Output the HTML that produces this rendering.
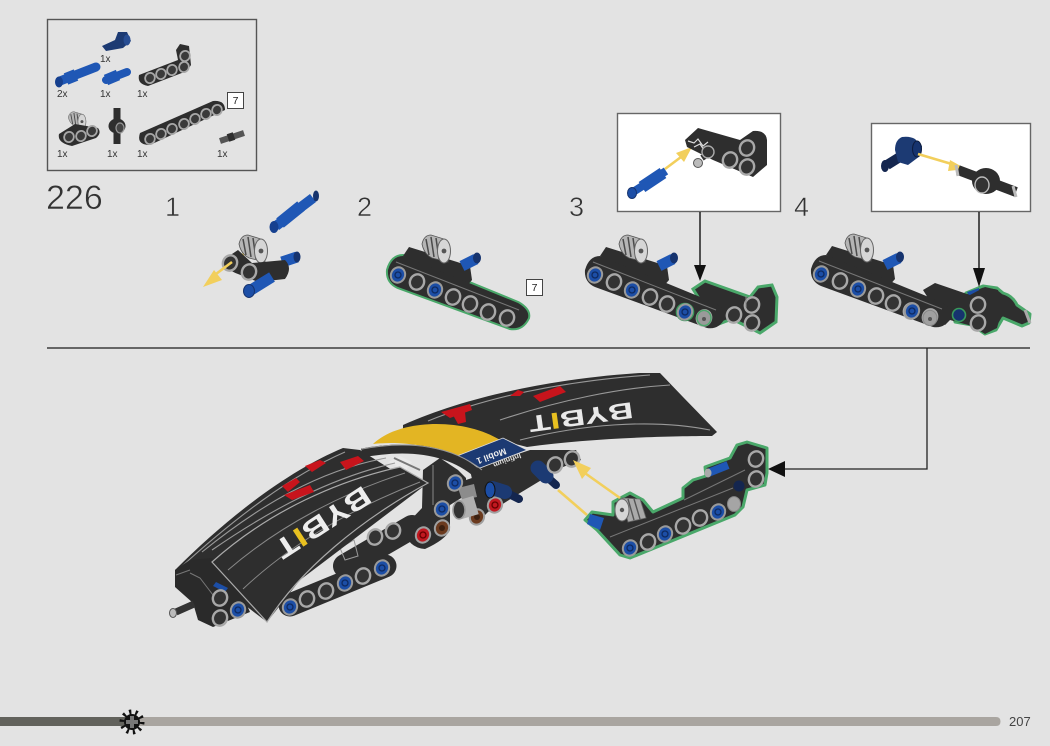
<!DOCTYPE html>
<html><head><meta charset="utf-8"><style>
html,body{margin:0;padding:0;background:#e3e3e3;width:1050px;height:746px;overflow:hidden}
svg{display:block}
text{font-family:"Liberation Sans",sans-serif}
</style></head><body>
<svg width="1050" height="746" viewBox="0 0 1050 746" xmlns="http://www.w3.org/2000/svg">
<defs>
<g id="h"><ellipse rx="7" ry="7.8" transform="rotate(25)" fill="#333" stroke="#a8a8a8" stroke-width="2.4"/></g>
<g id="b"><ellipse rx="7" ry="7.8" transform="rotate(25)" fill="#1c4ea6" stroke="#9a9a9a" stroke-width="2"/><circle r="3" fill="none" stroke="#0f2a60" stroke-width="1.3"/></g>
<g id="r"><ellipse rx="7" ry="7.8" transform="rotate(25)" fill="#c01820" stroke="#a0a0a0" stroke-width="2"/><circle r="3" fill="none" stroke="#600" stroke-width="1.3"/></g>
<g id="br"><ellipse rx="7" ry="7.8" transform="rotate(25)" fill="#6b3a1e" stroke="#a0a0a0" stroke-width="2"/><circle r="3" fill="#3c2010"/></g>
<g id="s"><ellipse rx="4.8" ry="5.2" transform="rotate(25)" fill="#3a3a3a" stroke="#a8a8a8" stroke-width="1.8"/></g>
<g id="pul">
<path d="M-14,-6 Q-12,-15 -5,-15 L8,-11 L12,12 L-4,8 Q-12,4 -14,-6 Z" fill="#b5b5b5" stroke="#555" stroke-width=".8"/>
<path d="M-10,-11 L-7,5 M-5,-13 L-2,7 M0,-12 L3,9" stroke="#4a4a4a" stroke-width="1.5" fill="none"/>
<ellipse cx="8" cy="1" rx="6.5" ry="12" fill="#d6d6d6" stroke="#666" stroke-width="1"/>
<circle cx="8" cy="1" r="2.4" fill="#555"/>
</g>
<g id="sub">
<path d="M403,256 L409,247 L470,266 L472,280 L465,288 Z" fill="#2e2e2e"/>
<path d="M462,266 L476,259" stroke="#1f57b5" stroke-width="11" fill="none"/>
<ellipse cx="477" cy="258" rx="4" ry="5.5" fill="#16336e"/>
<use href="#pul" x="436" y="250"/>
<path d="M403,256 L518,303 Q530,310 528,318 Q522,330 510,328 L398,287 Q387,282 388,270 Q392,256 403,256 Z" fill="#2e2e2e"/>
<path d="M396,262 L519,310" stroke="#777" stroke-width="1"/>
<use href="#b" x="398" y="275"/><use href="#h" x="417" y="282"/><use href="#b" x="435" y="290"/>
<use href="#h" x="453" y="297"/><use href="#h" x="470" y="304"/><use href="#h" x="488" y="312"/><use href="#h" x="507" y="318"/>
</g>
</defs>

<rect width="1050" height="746" fill="#e3e3e3"/>

<!-- parts panel -->
<rect x="47.5" y="19.500" width="209" height="151" fill="#e3e3e3" stroke="#555" stroke-width="1.4"/>
<path d="M102,46 L115,40 L118,32 L127,32 L131,41 L123,48 L106,51 Z" fill="#1c3a73"/><ellipse cx="127" cy="40" rx="3.500" ry="5.500" fill="#274d93"/>
<path d="M60,81 L96,67" stroke="#1f57b5" stroke-width="9" stroke-linecap="round"/><path d="M66,79 L76,75" stroke="#1f57b5" stroke-width="12"/><ellipse cx="59" cy="82" rx="4" ry="5.500" fill="#16408f"/>
<path d="M106,80 L127,72" stroke="#1f57b5" stroke-width="8" stroke-linecap="round"/><path d="M106,80 L118,75" stroke="#1f57b5" stroke-width="11"/>
<path d="M139,75 L178,60 L176,50 L180,44 L189,46 L191,65 L187,71 L148,86 Q137,84 139,75 Z" fill="#2e2e2e"/>
<use href="#s" x="150" y="78"/><use href="#s" x="161" y="74"/><use href="#s" x="172" y="70"/><use href="#s" x="184" y="67"/><use href="#s" x="185" y="56"/>
<path d="M140,133 L213,101 Q225,100 225,110 L150,145 Q136,145 140,133 Z" fill="#2e2e2e"/>
<use href="#s" x="150" y="139"/><use href="#s" x="161" y="134"/><use href="#s" x="172" y="129"/><use href="#s" x="184" y="124"/><use href="#s" x="195" y="119"/><use href="#s" x="206" y="114"/><use href="#s" x="217" y="110"/>
<use href="#pul" transform="translate(77,121) scale(.62)"/>
<path d="M59,134 L75,124 L98,128 Q102,133 96,138 L72,146 Q57,143 59,134 Z" fill="#2e2e2e"/>
<use href="#s" x="69" y="137"/><use href="#s" x="81" y="136"/><use href="#s" x="92" y="131"/>
<path d="M117,108 L117,144" stroke="#2e2e2e" stroke-width="7"/><ellipse cx="117" cy="126" rx="8.500" ry="7.500" fill="#2e2e2e"/><ellipse cx="120" cy="128" rx="4" ry="5" fill="#444" stroke="#999" stroke-width="1.2"/>
<path d="M220,141 L244,133" stroke="#555" stroke-width="6"/><path d="M228,138 L234,136" stroke="#2e2e2e" stroke-width="8"/>
<rect x="227.5" y="92.500" width="16" height="16" fill="#fff" stroke="#444" stroke-width="1"/>
<text x="235.500" y="104" font-size="10.500" text-anchor="middle" fill="#222">7</text>
<g font-size="10" fill="#333">
<text x="100" y="62">1x</text><text x="57" y="97">2x</text><text x="100" y="97">1x</text><text x="137" y="97">1x</text>
<text x="57" y="157">1x</text><text x="107" y="157">1x</text><text x="137" y="157">1x</text><text x="217" y="157">1x</text>
</g>

<!-- step numbers -->
<g fill="#333" stroke="#e3e3e3" stroke-width=".5">
<text x="46" y="209" font-size="34">226</text>
<text x="165" y="216" font-size="27">1</text>
<text x="357" y="216" font-size="27">2</text>
<text x="569" y="216" font-size="27">3</text>
<text x="794" y="216" font-size="27">4</text>
</g>

<!-- step 1 -->
<path d="M276,226 L313,198" stroke="#1f57b5" stroke-width="10"/><path d="M280,223 L301,206" stroke="#1f57b5" stroke-width="12"/><ellipse cx="274" cy="227" rx="4.500" ry="6" fill="#16408f"/><ellipse cx="316" cy="196" rx="3" ry="5.500" fill="#16336e"/>
<path d="M258,243 L236,260" stroke="#f2cf5c" stroke-width="2.600"/>
<path d="M282,262 L297,257" stroke="#1f57b5" stroke-width="11"/><ellipse cx="297" cy="257" rx="3.500" ry="5.500" fill="#16336e"/>
<use href="#pul" x="253" y="250"/>
<path d="M226,258 L238,250 L252,263 L285,260 Q293,268 285,279 L258,282 L238,274 Q222,268 226,258 Z" fill="#2e2e2e"/>
<use href="#h" x="230" y="263"/><use href="#h" x="249" y="272"/>
<path d="M251,290 L272,277" stroke="#1f57b5" stroke-width="11"/><ellipse cx="249" cy="291" rx="5.500" ry="6.500" fill="#1c4ea6" stroke="#16336e" stroke-width="1"/>
<path d="M232,262 L216,274" stroke="#f2cf5c" stroke-width="2.600"/>
<path d="M203,287 L214,270 L222,280 Z" fill="#f2cf5c"/>

<!-- step 2 -->
<g stroke="#4aa86a" stroke-width="4" fill="none"><path d="M403,256 L518,303 Q530,310 528,318 Q522,330 510,328 L398,287 Q387,282 388,270 Q392,256 403,256 Z"/></g>
<use href="#sub"/>
<rect x="526.5" y="279.500" width="16" height="16" fill="#fff" stroke="#444" stroke-width="1"/>
<text x="534.500" y="291" font-size="10.500" text-anchor="middle" fill="#222">7</text>

<!-- step 3 -->
<path d="M693,289 L705,281 L750,297 L758,287 L772,285 L777,297 L776,322 L760,333 L732,319 L716,325 Z" fill="#2e2e2e" stroke="#4aa86a" stroke-width="3"/>
<use href="#sub" x="197"/>
<circle cx="685" cy="312" r="8.500" fill="none" stroke="#3a9a5c" stroke-width="1.600"/><use href="#b" x="685" y="312"/>
<ellipse cx="704" cy="318" rx="7" ry="7.600" fill="#9a9a9a" stroke="#4aa86a" stroke-width="1.400"/><circle cx="704" cy="319" r="2" fill="#555"/>
<use href="#h" x="734" y="315"/><use href="#h" x="752" y="305"/><use href="#h" x="752" y="323"/>
<path d="M746,296 L746,307" stroke="#888" stroke-width="1"/>

<!-- step 4 -->
<path d="M966,293 L983,286 L997,288 L1003,293 Q1013,296 1017,305 L1030,314 L1029,323 L1022,326 L1003,318 L996,330 L985,334 L972,325 L955,322 L952,312 Z" fill="#2e2e2e" stroke="#4aa86a" stroke-width="3" stroke-linejoin="round"/>
<path d="M1025,310 L1030,323" stroke="#aaa" stroke-width="3"/>
<path d="M967,292 L979,288 L979,296 L970,298 Z" fill="#1c4ea6"/>
<path d="M923,290 L935,283 L970,295 L985,287 L998,290 L1002,310 L997,328 L985,334 L972,326 L950,320 L945,325 Z" fill="#2e2e2e"/>
<use href="#sub" x="423" y="-1"/>
<use href="#b" x="912" y="311"/>
<ellipse cx="930" cy="318" rx="7" ry="7.600" fill="#a0a0a0" stroke="#888" stroke-width="1"/><circle cx="930" cy="319" r="2" fill="#555"/>
<circle cx="959" cy="315" r="6.500" fill="#16336e" stroke="#3a9a5c" stroke-width="1.600"/>
<use href="#h" x="978" y="305"/><use href="#h" x="978" y="323"/>

<!-- panels -->
<rect x="617.5" y="113.500" width="163" height="98" fill="#fff" stroke="#666" stroke-width="1.400"/>
<rect x="871.5" y="123.500" width="159" height="88" fill="#fff" stroke="#666" stroke-width="1.400"/>
<path d="M700,212 V268" stroke="#111" stroke-width="1.400"/><path d="M694,265 L706,265 L700,281 Z" fill="#111"/>
<path d="M979,212 V270" stroke="#111" stroke-width="1.400"/><path d="M973,268 L985,268 L979,287 Z" fill="#111"/>

<!-- panel 1 content -->
<path d="M633,192 L666,171" stroke="#1f57b5" stroke-width="8"/><path d="M642,187 L663,173" stroke="#1f57b5" stroke-width="12"/><ellipse cx="632" cy="193" rx="4.500" ry="5.500" fill="#1c4ea6" stroke="#16336e"/>
<path d="M665,169 L681,157" stroke="#f2cf5c" stroke-width="2.600"/><path d="M692,147 L676,153 L684,162 Z" fill="#f2cf5c"/>
<path d="M685,140 L698,128 L740,140 L753,131 Q766,130 767,140 L767,165 L753,177 L713,160 L687,147 Z" fill="#2e2e2e"/>
<path d="M688,141 L694,143 L698,139 L703,146 L708,142 M694,147 L700,144 L704,150" stroke="#ddd" stroke-width="1.200" fill="none"/>
<path d="M702,158 L714,150" stroke="#333" stroke-width="6"/><ellipse cx="698" cy="163" rx="4.500" ry="4.500" fill="#bbb" stroke="#555"/>
<use href="#h" x="730" y="160"/><use href="#h" x="747" y="148"/><use href="#h" x="747" y="167"/>
<circle cx="708" cy="152" r="6" fill="#333" stroke="#aaa" stroke-width="1.400"/>

<!-- panel 2 content -->
<path d="M887,165 L903,155" stroke="#14264f" stroke-width="10"/>
<path d="M895,150 Q895,140 902,137 Q910,136 915,139 L922,146 L920,156 L908,165 L898,162 Z" fill="#1c3a73"/><ellipse cx="917" cy="149" rx="4.500" ry="8" fill="#16336e" stroke="#0d1c3e"/>
<ellipse cx="885" cy="166" rx="4" ry="6" fill="#14264f"/>
<path d="M918,154 L955,165" stroke="#f2cf5c" stroke-width="2.600"/><path d="M966,169 L950,160 L948,171 Z" fill="#f2cf5c"/>
<path d="M958,170 L1016,192" stroke="#2e2e2e" stroke-width="10"/>
<ellipse cx="986" cy="181" rx="14" ry="13" fill="#2e2e2e"/><ellipse cx="982" cy="185" rx="7" ry="8" fill="#333" stroke="#bbb" stroke-width="1.400"/>
<path d="M956,165 L958,176" stroke="#bbb" stroke-width="3"/><path d="M1013,186 L1016,197" stroke="#bbb" stroke-width="3"/>

<!-- separator and connector -->
<path d="M47,348 H1030" stroke="#666" stroke-width="2"/>
<path d="M927,348 V469 H780" stroke="#222" stroke-width="1.300" fill="none"/>
<path d="M768,469 L785,461 L785,477 Z" fill="#111"/>

<!-- back wing -->
<path d="M403,425 C470,395 560,378 640,373 L660,373 L683,397 L717,432 L712,436 C670,436 590,438 527,447 L500,440 C470,425 430,420 403,430 Z" fill="#2e2e2e"/>
<path d="M428,421 C500,392 580,380 650,375 M500,420 C560,400 620,388 670,385 M520,440 C580,425 650,418 710,430" stroke="#999" stroke-width="1.100" fill="none"/>
<path d="M441,412 L470,404 L472,410 L450,418 Z M533,396 L560,386 L566,392 L540,402 Z" fill="#c8141c"/>
<path d="M453,415 L465,412 L466,422 L458,424 Z M524,392 L518,390 L510,396 L520,396 Z" fill="#c8141c"/>
<text font-size="27" font-weight="bold" fill="#e9e9e9" textLength="105" lengthAdjust="spacingAndGlyphs" transform="translate(632,402) rotate(172) scale(1,.85)">BYB<tspan fill="#e8c020">I</tspan>T</text>

<!-- lower beams -->
<path d="M290,605 L385,566" stroke="#2e2e2e" stroke-width="23" stroke-linecap="round"/>
<path d="M345,566 L412,527" stroke="#2e2e2e" stroke-width="24" stroke-linecap="round"/>
<use href="#b" x="290" y="607"/><use href="#h" x="307" y="599"/><use href="#h" x="326" y="591"/><use href="#b" x="345" y="583"/><use href="#h" x="363" y="576"/><use href="#b" x="382" y="568"/>
<use href="#h" x="375" y="537"/><use href="#h" x="393" y="531"/>
<path d="M340,548 L354,540 L358,556 L345,560 Z" fill="none" stroke="#999" stroke-width="1"/>

<!-- center -->
<path d="M470,470 L530,450 L576,450 L581,460 L563,467 L520,493 L490,512 L478,506 Z" fill="#2e2e2e"/>
<path d="M373,444 C400,418 465,418 500,440 L457,457 C432,445 400,441 373,444 Z" fill="#e3b523"/>
<path d="M457,456 L503,438 L527,450 L480,468 Z" fill="#1c3a73" stroke="#ddd" stroke-width=".8"/>
<text font-size="9" font-weight="bold" fill="#eee" transform="translate(505,448) rotate(160)">Mobil 1</text>
<text font-size="7.500" font-weight="bold" fill="#ddd" transform="translate(520,453) rotate(160)">Infinium</text>
<path d="M362,453 C410,444 450,450 478,474" stroke="#2e2e2e" stroke-width="9" fill="none"/>
<path d="M362,449 C410,440 452,446 482,470" stroke="#999" stroke-width="1" fill="none"/>
<path d="M388,462 L400,456 L412,462 L406,470 Z" fill="#e9e9e9"/>
<path d="M394,458 L420,470" stroke="#777" stroke-width="2"/>
<path d="M403,528 L422,508 L423,470 L440,458 L458,470 L466,478 L466,495 L450,505 L450,530 Q445,540 425,549 Q408,548 403,528 Z" fill="#2e2e2e"/>
<path d="M433,465 L433,505" stroke="#888" stroke-width="1"/>
<path d="M466,480 L490,472 L500,500 L480,520 L466,505 Z" fill="#2e2e2e"/>
<path d="M458,488 L474,484 L477,497 L462,500 Z" fill="#8c8c8c"/>
<use href="#r" x="423" y="535"/><use href="#br" x="442" y="528"/><use href="#b" x="442" y="509"/><use href="#b" x="455" y="483"/>
<use href="#br" x="477" y="517"/><use href="#r" x="495" y="505"/>
<path d="M459,510 L476,505" stroke="#b0b0b0" stroke-width="19"/><ellipse cx="459" cy="510" rx="6" ry="9" fill="#333" stroke="#999" stroke-width="1.600"/>
<path d="M505,492 L519,499" stroke="#14264f" stroke-width="8" stroke-linecap="round"/>
<path d="M492,488 L505,492" stroke="#1c3a73" stroke-width="14" stroke-linecap="round"/><ellipse cx="490" cy="490" rx="5" ry="8" fill="#1c4ea6" stroke="#111"/>
<path d="M546,476 L556,485" stroke="#14264f" stroke-width="8" stroke-linecap="round"/>
<path d="M538,468 L546,476" stroke="#1c3a73" stroke-width="15" stroke-linecap="round"/>
<use href="#h" x="555" y="465"/><use href="#h" x="572" y="459"/>

<!-- left strips + front panel -->
<path d="M175,570 C230,515 290,470 343,448 L360,450 L392,470 L428,483 L300,580 L267,622 L212,580 Z" fill="#2e2e2e"/>
<path d="M180,568 C235,518 290,476 345,452 M202,552 C260,505 320,470 386,458 M212,550 C270,510 330,478 395,463" stroke="#999" stroke-width="1.100" fill="none"/>
<path d="M282,486 L296,478 L300,482 L288,492 Z M305,466 L320,460 L326,463 L312,472 Z M340,462 L358,456 L364,461 L346,470 Z M284,495 L310,485 L314,492 L292,500 Z" fill="#c8141c"/>
<path d="M175,570 L175,587 L193,603 L198,620 L213,627 L250,612 L240,590 L212,558 L190,560 Z" fill="#2a2a2a"/>
<path d="M176,612 L194,604" stroke="#333" stroke-width="7"/><ellipse cx="173" cy="613" rx="3.500" ry="4.500" fill="#bbb" stroke="#555"/>
<path d="M212,562 C270,510 340,480 400,467 L428,483 C360,520 300,570 267,622 Z" fill="#2e2e2e" stroke="#aaa" stroke-width="1.200"/>
<path d="M243,589 C295,540 360,505 420,482 M228,570 C280,525 345,492 405,473" stroke="#888" stroke-width="1" fill="none"/>
<path d="M190,573 L200,578 L213,595 M176,575 L190,570" stroke="#777" stroke-width="1" fill="none"/>
<path d="M216,582 L228,588 L225,592 L213,586 Z" fill="#1c4ea6"/>
<use href="#h" x="220" y="598"/><use href="#h" x="220" y="618"/><use href="#b" x="238" y="610"/>
<text font-size="31" font-weight="bold" fill="#ededed" textLength="108" lengthAdjust="spacingAndGlyphs" transform="translate(363,485) rotate(147) scale(1,.9)">BYB<tspan fill="#e8c020">I</tspan>T</text>

<!-- green sub assembly -->
<path d="M585,520 L592,512 L613,515 L613,502 L630,493 L643,500 L653,512 L683,498 L683,488 L693,480 L706,476 L705,467 L730,458 L737,445 L747,442 L767,448 L767,473 L765,485 L747,490 L743,507 L735,515 L630,558 L620,555 L597,530 Z" fill="#2e2e2e" stroke="#4aa86a" stroke-width="3" stroke-linejoin="round"/>
<path d="M590,514 L604,518 L600,530 L587,524 Z" fill="#1f57b5"/>
<path d="M610,537 L733,488 M684,500 L745,470" stroke="#777" stroke-width="1" fill="none"/>
<path d="M622,498 L640,499 L646,518 L628,522 Z" fill="#aaa" stroke="#666" stroke-width=".8"/>
<path d="M628,499 L634,520 M634,499 L640,519" stroke="#555" stroke-width="1.400"/>
<ellipse cx="622" cy="510" rx="7" ry="11" fill="#d6d6d6" stroke="#666" stroke-width="1"/><circle cx="622" cy="510" r="2.200" fill="#555"/>
<path d="M708,473 L728,465" stroke="#1f57b5" stroke-width="8"/><ellipse cx="708" cy="473" rx="3.500" ry="4.500" fill="#aaa"/>
<use href="#b" x="630" y="548"/><use href="#h" x="648" y="542"/><use href="#b" x="665" y="534"/><use href="#h" x="683" y="526"/><use href="#h" x="700" y="518"/><use href="#b" x="718" y="512"/><ellipse cx="734" cy="504" rx="6.500" ry="7.400" fill="#a5a5a5" stroke="#888"/>
<use href="#h" x="756" y="459"/><use href="#h" x="756" y="479"/>
<circle cx="739" cy="486" r="5.500" fill="#14264f"/>

<!-- yellow arrows -->
<path d="M620,498 L582,471" stroke="#f2cf5c" stroke-width="2.600"/><path d="M573,460 L591,468 L582,479 Z" fill="#f2cf5c"/>
<path d="M558,490 L587,515" stroke="#f2cf5c" stroke-width="2.600"/>

<!-- progress bar -->
<path d="M0,717 H996 Q1000.500,717 1000.500,721.500 Q1000.500,726 996,726 H0 Z" fill="#a9a5a0"/>
<rect x="0" y="717" width="130" height="9" fill="#62625c"/>
<circle cx="132" cy="722" r="10" fill="none" stroke="#111" stroke-width="5" stroke-dasharray="2.200 4.080"/>
<circle cx="132" cy="722" r="8" fill="#111"/>
<path d="M132,716 V728 M126,722 H138" stroke="#777" stroke-width="4"/>
<text x="1009" y="726" font-size="13" fill="#444">207</text>
</svg>
</body></html>
